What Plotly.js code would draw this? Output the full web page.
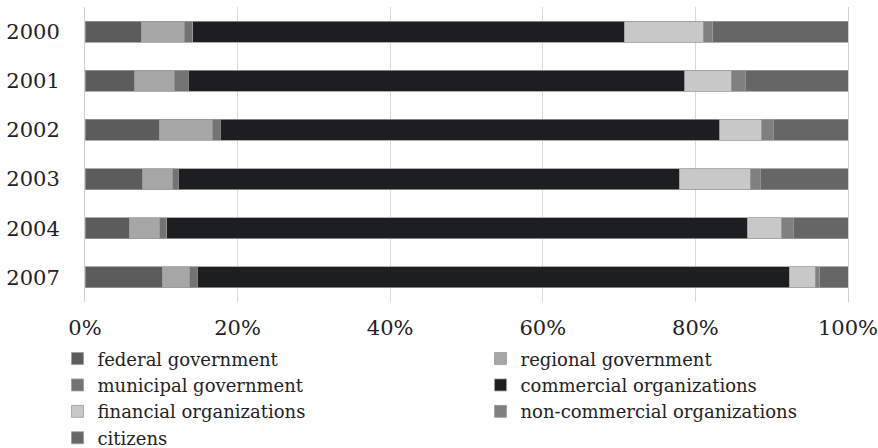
<!DOCTYPE html>
<html><head><meta charset="utf-8">
<script src="https://cdn.plot.ly/plotly-3.0.1.min.js"></script>
<style>html,body{margin:0;padding:0;background:#fff}#chart{width:878px;height:448px}</style>
</head><body><div id="chart"></div>
<script>
var years = ['2000','2001','2002','2003','2004','2007'];
var federal       = [7.4, 6.5, 9.7, 7.6, 5.8, 10.1];
var regional      = [5.6, 5.2, 7.0, 3.9, 4.0, 3.6];
var municipal     = [1.1, 1.8, 1.0, 0.7, 0.9, 1.0];
var commercial    = [56.6, 65.1, 65.5, 65.7, 76.1, 77.6];
var financial     = [10.3, 6.1, 5.5, 9.3, 4.5, 3.4];
var noncommercial = [1.3, 1.8, 1.5, 1.3, 1.5, 0.6];
var citizens      = [17.7, 13.5, 9.8, 11.5, 7.2, 3.7];
var seriesNames = ['federal government','regional government','municipal government','commercial organizations','financial organizations','non-commercial organizations','citizens'];
var seriesValues = [federal, regional, municipal, commercial, financial, noncommercial, citizens];
var seriesColors = ['#5c5c5c','#a6a6a6','#737373','#1c1e20','#c8c8c8','#808080','#666666'];

var traces = seriesValues.map(function(v, i){
  return {
    type:'bar', orientation:'h', name: seriesNames[i], y: years, x: v,
    marker:{color: seriesColors[i], line:{color:'#9a9a9a', width:0.8}},
    hoverinfo:'x+name'
  };
});

var layout = {
  width:878, height:448,
  margin:{l:85, r:30, t:7, b:146, autoexpand:false},
  barmode:'stack', barnorm:'percent', bargap:0.57,
  paper_bgcolor:'#fff', plot_bgcolor:'#fff',
  font:{family:'DejaVu Serif, Liberation Serif, serif', color:'#222', size:18},
  xaxis:{range:[0,100], tickvals:[0,20,40,60,80,100], ticktext:['0%','20%','40%','60%','80%','100%'],
         showgrid:true, gridcolor:'#d9d9d9', gridwidth:1, zeroline:false, showline:false,
         ticks:'', tickfont:{size:21}, ticklabelstandoff:11, ticklabeloverflow:'allow', fixedrange:true},
  yaxis:{type:'category', autorange:'reversed', ticks:'', showline:true, mirror:true, linecolor:'#d0d0d0',
         tickfont:{size:21}, ticklabelstandoff:20, fixedrange:true},
  showlegend:true,
  legend:{orientation:'h', x:-0.036, xanchor:'left', y:-0.13, yanchor:'top', traceorder:'normal',
          entrywidth:378, entrywidthmode:'pixels', font:{size:18}, itemwidth:30, tracegroupgap:0}
};
Plotly.newPlot('chart', traces, layout, {displayModeBar:false, staticPlot:true});
</script>
</body></html>
